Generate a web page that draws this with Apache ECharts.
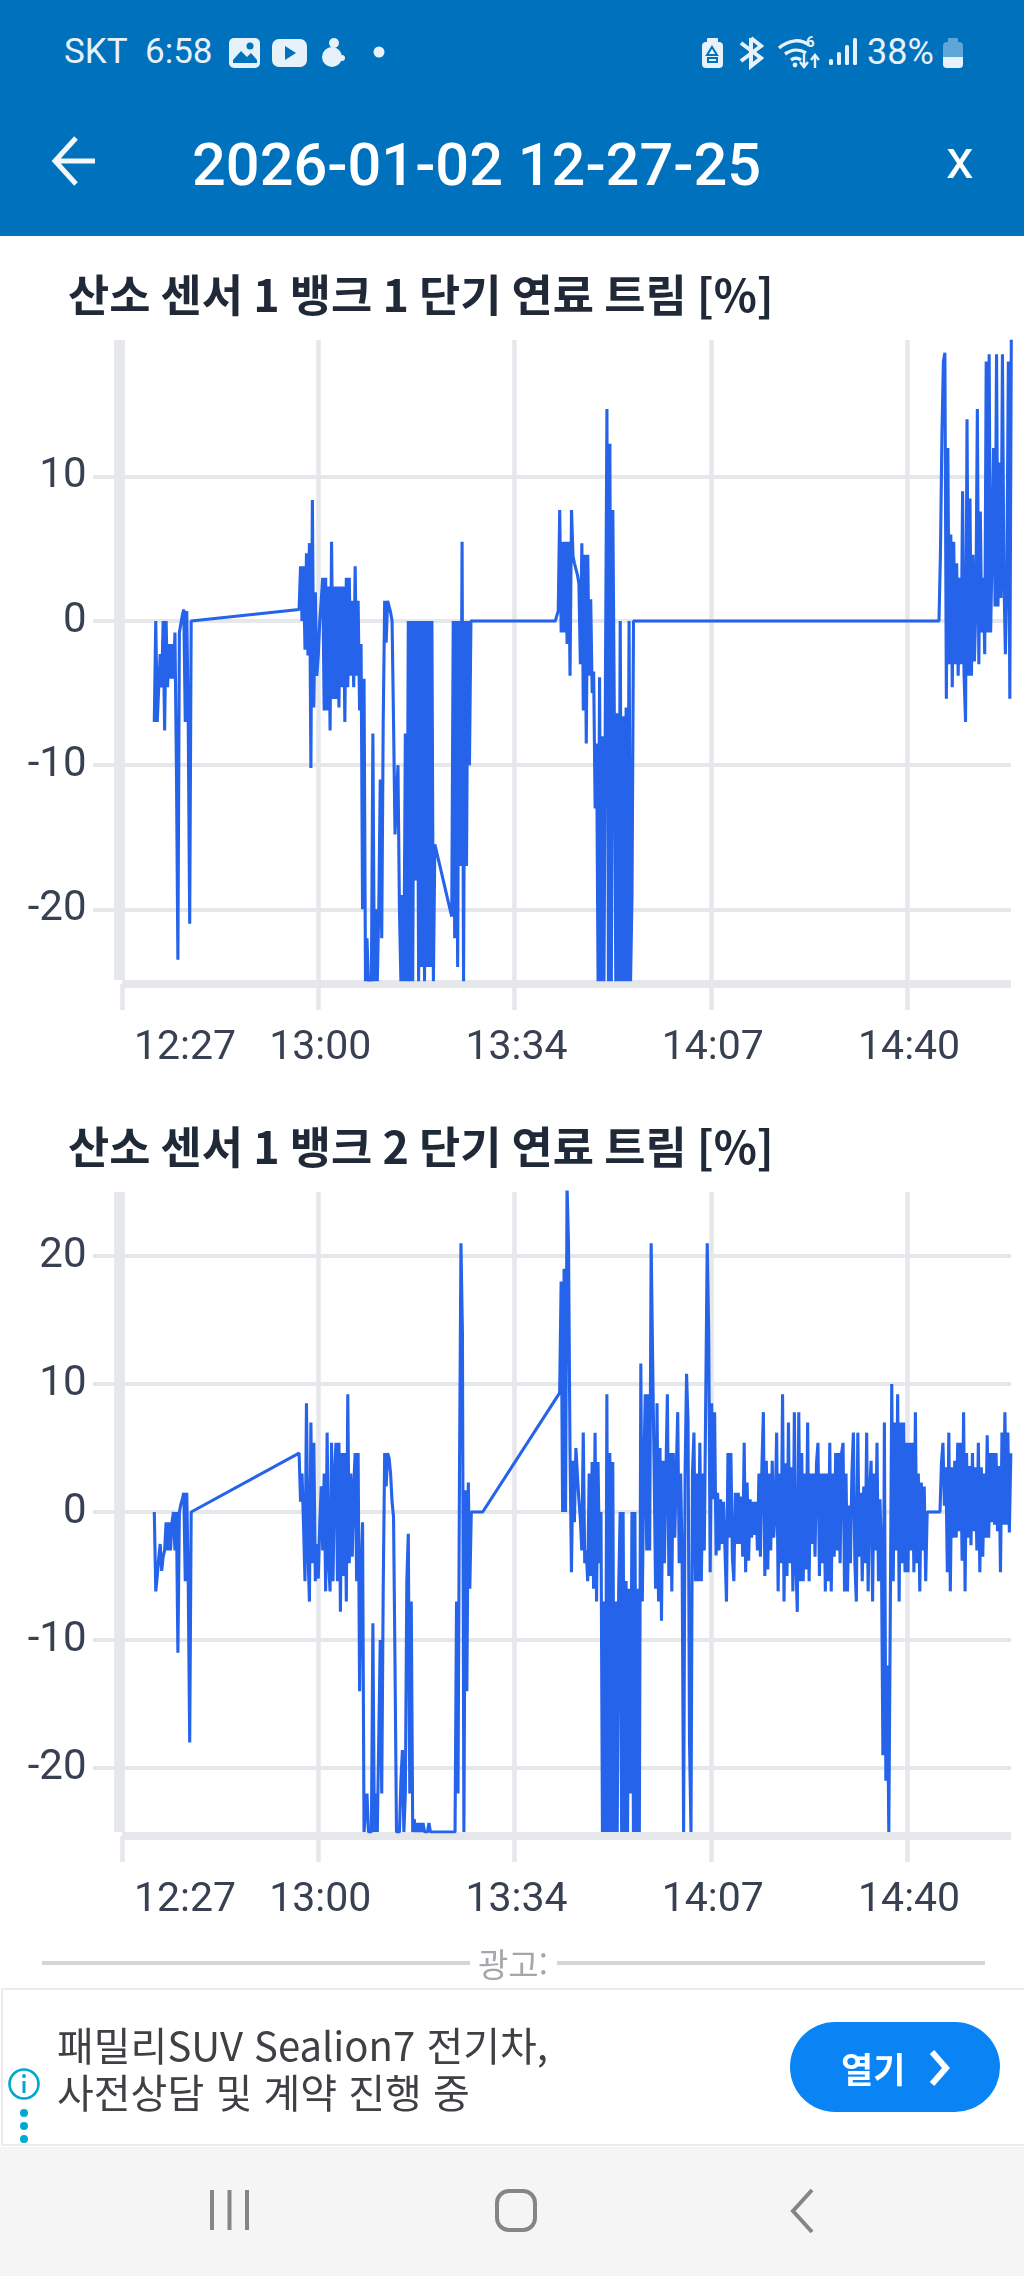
<!DOCTYPE html>
<html lang="ko">
<head>
<meta charset="utf-8">
<title>2026-01-02 12-27-25</title>
<script src="https://cdn.jsdelivr.net/npm/echarts@6/dist/echarts.min.js"></script>
<style>
html,body{margin:0;padding:0;background:#fff;width:1024px;height:2276px;overflow:hidden;font-family:Roboto,"Noto Sans CJK KR",sans-serif}
.a{position:absolute;white-space:nowrap}
#chart{position:absolute;left:0;top:0;width:1024px;height:2276px}
#head{position:absolute;left:0;top:0;width:1024px;height:236px;background:#0071bc}
#nav{position:absolute;left:0;top:2147px;width:1024px;height:129px;background:#f5f5f5}
#adbox{position:absolute;left:1px;top:1988px;width:1023px;height:158px;border:2px solid #ececee;border-right:0;box-sizing:border-box}
</style>
</head>
<body>
<div id="head"></div>
<div class="a" style="left:64px;top:31px;font-size:35px;line-height:42px;color:#e6f1f9">SKT&nbsp;&nbsp;6:58</div>
<svg class="a" style="left:0;top:0" width="1024" height="236" fill="#e6f1f9">
  <rect x="229" y="38" width="31" height="30" rx="5"/>
  <path d="M233 60l8-9 6 6 4-4 6 7v3h-24z" fill="#0071bc"/><circle cx="250" cy="46" r="3.5" fill="#0071bc"/>
  <rect x="272" y="39" width="35" height="28" rx="7"/><path d="M285 46l11 7-11 7z" fill="#0071bc"/>
  <circle cx="334" cy="43" r="5"/><circle cx="332" cy="57" r="10"/><circle cx="342" cy="58" r="3"/>
  <circle cx="379" cy="52" r="5.5"/>
  <rect x="702" y="42" width="21" height="26" rx="4"/><rect x="707" y="38" width="11" height="5" rx="1"/>
  <path d="M712 47l5 8h-10zM708 58h9v4h-9z" fill="none" stroke="#0071bc" stroke-width="2"/>
  <path d="M751 38v28l10-8-20-15M751 38l10 8-20 15" fill="none" stroke="#e6f1f9" stroke-width="4"/>
  <path d="M779 48c11-9 22-9 30-3M785 54c7-5 15-5 21-1M791 60c3-2 7-2 10 0" fill="none" stroke="#e6f1f9" stroke-width="3.4"/>
  <circle cx="795" cy="65" r="2.4"/>
  <text x="806" y="47" font-size="15" font-weight="700" font-family="Roboto">6</text>
  <path d="M804 54v12M800 62l4 5 4-5M815 68v-12M811 60l4-5 4 5" fill="none" stroke="#e6f1f9" stroke-width="2.4"/>
  <rect x="829" y="59" width="4" height="6" rx="1.5"/><rect x="837" y="52" width="4" height="13" rx="1.5"/><rect x="845" y="45" width="4" height="20" rx="1.5"/><rect x="853" y="38" width="4" height="27" rx="1.5"/>
  <rect x="943" y="42" width="20" height="26" rx="4" fill="#5ea5d9"/><rect x="948" y="38" width="10" height="5" rx="1" fill="#5ea5d9"/>
  <path d="M943 57h20v7a4 4 0 0 1-4 4h-12a4 4 0 0 1-4-4z"/>
  <path d="M95 161H57M76 138L55 161l21 23" fill="none" stroke="#f4f8fb" stroke-width="5"/>
</svg>
<div class="a" style="left:867px;top:31px;font-size:36px;line-height:42px;color:#e6f1f9">38%</div>
<div class="a" id="pageTitle" style="left:192px;top:129px;font-size:59.5px;line-height:72px;font-weight:500;color:#fff">2026-01-02 12-27-25</div>
<div class="a" style="left:946px;top:123px;font-size:56px;line-height:72px;color:#fff">x</div>

<div id="chart"></div>

<div class="a" style="left:42px;top:1961px;width:428px;height:4px;background:#d4d5d8"></div>
<div class="a" style="left:557px;top:1961px;width:428px;height:4px;background:#d4d5d8"></div>
<div class="a" style="left:478px;top:1944px;font-size:33px;line-height:38px;color:#a5a7ab;font-family:'Noto Sans CJK KR'">광고:</div>
<div id="adbox"></div>
<div class="a" style="left:57px;top:2018px;font-size:40px;line-height:52px;color:#3e4043;font-family:'Noto Sans CJK KR'">패밀리SUV Sealion7 전기차,</div>
<div class="a" style="left:57px;top:2065px;font-size:40px;line-height:52px;color:#3e4043;font-family:'Noto Sans CJK KR'">사전상담 및 계약 진행 중</div>
<div class="a" style="left:790px;top:2022px;width:210px;height:90px;border-radius:45px;background:#0a84f5"></div>
<div class="a" style="left:841px;top:2046px;font-size:35px;line-height:44px;font-weight:700;color:#fff;font-family:'Noto Sans CJK KR'">열기</div>
<svg class="a" style="left:0;top:1980px" width="1024" height="296">
  <path d="M932 72l14 16-14 16" fill="none" stroke="#fff" stroke-width="6"/>
  <circle cx="24" cy="104" r="14.5" fill="none" stroke="#00a9cf" stroke-width="2.6"/>
  <rect x="22.5" y="101" width="3" height="12" fill="#00a9cf"/><circle cx="24" cy="96" r="2" fill="#00a9cf"/>
  <circle cx="24" cy="133" r="4" fill="#00a9cf"/><circle cx="24" cy="146" r="4" fill="#00a9cf"/><circle cx="24" cy="159" r="4" fill="#00a9cf"/>
</svg>
<div id="nav"></div>
<svg class="a" style="left:0;top:2147px" width="1024" height="129" fill="none" stroke="#858585" stroke-width="4">
  <path d="M212 43v40M229.500 43v40M247 43v40"/>
  <rect x="497" y="44" width="38" height="39" rx="12"/>
  <path d="M812 43L793 64l19 21" stroke-width="4"/>
</svg>

<script>
// ----- axis tick labels -----
const xTickLabels = ['12:27', '13:00', '13:34', '14:07', '14:40'];
const xTickMinutes = [747, 780.25, 813.5, 846.75, 880];
const bank1YTicks = [-20, -10, 0, 10];
const bank2YTicks = [-20, -10, 0, 10, 20];
const chartTitles = ['산소 센서 1 뱅크 1 단기 연료 트림 [%]', '산소 센서 1 뱅크 2 단기 연료 트림 [%]'];
const sampleStepMinutes = 0.25;

// ----- bank 1: logged runs, start minute of each run + readings -----
const bank1RunStarts = [752.47, 777.0, 802.86, 820.4, 885.4];
const bank1Run1 = [-7,0,-7,-4.6,-2.3,-4.6,0,-7.6,0,-4.6,-1.6,-4,-1.6,-4,-0.8,-10.2,-23.5,-0.8,-0.2,0.4,0.8,-7,0.7,-7,-21,0];
const bank1Run2 = [0.8,3.8,0,3.8,-2,4.7,-2.4,5.4,-10.2,8.4,-6,2,-3.8,-2.4,0,1.4,
  3,-6.2,3,-6.2,2.4,-7.6,5.5,-5.4,2.4,-5.4,2.4,-6,2.4,-4.6,2.4,-7,3,-4.6,3,-3.8,1.4,-4.6,3.8,-3.8,1.4,-6.2,-1.6,-20,-4,-25,
  -22,-25,-25,-25,-7.8,-25,-20,-25,-20,-11,-22,-7,1.4,-1.5,1.4,1.4,0.6,0,-7,-14.8,-14.8,-10,-20,-25,-19,-25,-7.8,-25,
  0,-25,0,-25,0,-18,0,-25,0,-24,0,-25,0,-24,0,-24,0,-25,-15.5];
const bank1Run3 = [-20.5,0,-22,0,-24,0,-17,5.5,-25,0,-17,0,-10,0];
const bank1Run4 = [0,0,0.7,7.7,-0.8,5.5,-0.8,5.5,-1.6,5.5,-3.8,7.7,4.5,4,3.6,3.2,2.6,-3,5.4,-6.2,4.6,-8.5,4.6,-3.8,1.5,-5,-3.5,-13,-8.5,-25,-3.9,-25,-8,-25,-3.9,14.7,-25,12.3,-25,7.7,-6.4,-25,-6.4,-25,0,-25,-6.6,-25,-6,-25,0,-25,-19,0];
const bank1Run5 = [0,4.7,13,18,18.6,-5.4,12,-3,6,-4.6,5.5,-3,4,-3.8,3,-3,9,-3.8,-7,14,-3.8,8.5,-3.8,4.6,-2.8,1,14.7,-3,7.6,-0.8,3,-2.3,18,-0.8,18.5,-0.8,5,12,1,18.5,1,11,1.6,18.5,3,-2.3,3,18,-5.4,19.5];

// ----- bank 2: logged runs -----
const bank2RunStarts = [752.47, 777.0, 803.42, 808.1, 821.14, 847.9, 885.57];
const bank2Run1 = [0,-6.2,-5,-3.6,-2.5,-4.6,-3.5,-3,-0.8,-3,-0.8,-3,-0.8,0,-3,0,-11,0,0.6,1,1.5,-5.4,1.5,-5.4,-18,0];
const bank2Run2 = [4.6,0.8,3,-1,-5.4,8.5,-3,-7,7,-4,5.4,-5.4,-2.5,-5.2,-1,2,-3,3,-6.2,6.2,-4,-6.2,5.4,-5.4,3,5.4,-5.4,5.4,-7.8,4.6,-5,4.6,-7,9.2,-4,3,-3.5,2,4.6,-5.4,4.6,-14,-5,-0.8,-25,-25,
  -22,-25,-25,-25,-8.7,-25,-22,-25,-25,-10,-22,-6,4.6,2,4.6,4.2,3,0.8,-0.4,-12,-25,-25,-25,-21,-18.6,-25,-22,-5.4,-1.7,-22,-7,-25,-24,-25,-24.3,-25,-24.3,-25,-24.3,-25,-25,-25,-24.3,-25];
const bank2Run3 = [-25,-7,-22,3,21,14,-25,1.7,-14,2.3,-6,0];
const bank2Run4 = [0];
const bank2Run5 = [9.3,18,0,19,0,25.5,21,5,-4.7,4,-0.8,5,3,1,-0.5,-3,6.2,-4,-3,-5.4,3,-5,3.9,-6,6.2,-7,3.9,-4,0,-25,-7,-25,9.2,-25,4.6,-25,3.9,-25,-7,-25,-6,0,-25,0,-25,-5.4,-25,-6,-22,0,-25,0,-25,-6,-25,
  11.6,-7,3,9.2,-3,9.2,-3,21,12,3.5,-6,8.5,-7,5,-8.5,4,-4,3,9.2,-5,4.6,-6.2,4.6,-2,3,7.8,-4,3,-4,-25,3,10.8,7,-18,-25,3,6.2,-5.4,3,-5.4,5.4,-5.4,3,-3,-3,21,14,-4.7,8.5,1,7.8,-3.4];
const bank2Run6 = [1.5,-3,1,-2.5,0.8,-3,-7,4.6,-2,4.6,-3.5,-5.4,1.5,-2.5,1.5,-2.5,1.2,-3.5,5.4,-4.7,2.3,-3.8,1,-2,0.8,-1.8,0.8,-3,3,-3.5,3.5,7.8,-5,4,-4.5,3,-3,4,-2,0,6.2,-6.2,3,-4,9.2,-7,3.8,-5,7,-4,3.5,-6.2,7.8,-4,-7.8,7.8,-5.4,4.6,-5.4,3,-4.5,7,-5.4,3,-2.5,3,-3.5,3.8,5.4,-5,3,-4,3,-6.2,3,-5.4,5.4,-6.2,3,-3.5,4.6,-3,4.6,-4,4.6,5.4,-6.2,3,-6.2,0.5,-4,3,6.2,-4,-7,6.2,-3.5,1.5,-5.4,2,-4,6.2,-6.2,1.5,4,-7,3,-3,5.4,-5.4,1,-3,-19,7,-21,-12,-25,-8,10,-5.4,7,-3,9.2,-7,7,-4,7,-4.7,5.4,-4.7,5.4,-3,5.4,-4.7,7.8,-4,3,-6.2,2.3,-3,2,-5.4,0];
const bank2Run7 = [0,3.8,5.4,0.5,3.5,-4.7,6.2,-6.2,3.5,-2,4,-2,5.4,-1.5,5.4,-3.8,7.8,-6.2,4.6,-2,3.6,-2.6,4.6,-1.5,3.5,-3,5.4,-4.7,3.5,-3.5,3,-2,6,-2,4.6,-0.8,4.6,-1,4.6,-1.5,3.6,-4.7,6.2,-1,7.8,-1,6.2,-1.6,4.6];

function joinRuns(starts, runs) {
  const points = [];
  runs.forEach(function (run, r) {
    run.forEach(function (v, i) { points.push([starts[r] + i * sampleStepMinutes, v]); });
  });
  return points;
}
const bank1Points = joinRuns(bank1RunStarts, [bank1Run1, bank1Run2, bank1Run3, bank1Run4, bank1Run5]);
const bank2Points = joinRuns(bank2RunStarts, [bank2Run1, bank2Run2, bank2Run3, bank2Run4, bank2Run5, bank2Run6, bank2Run7]);

// ----- layout and style -----
const GRID = '#e5e7eb', LINE = '#2563eb', TEXT = '#374151', H = 2276;
const grids = [{top: 340, bottom: 980}, {top: 1192, bottom: 1832}];
const xLabelStyle = {fontFamily: 'Roboto', fontSize: 41, color: TEXT};

function xAxis(i) {
  return {
    type: 'value', gridIndex: i, min: 747, max: 897.6, offset: 4,
    axisLine: {show: true, onZero: false, lineStyle: {color: GRID, width: 8, cap: 'butt'}},
    axisTick: {show: true, length: 26, customValues: xTickMinutes, lineStyle: {color: GRID, width: 4.5}},
    splitLine: {show: true, showMinLine: false, lineStyle: {color: GRID, width: 4.5}},
    axisLabel: {
      customValues: xTickMinutes, margin: 44, fontFamily: 'Roboto', fontSize: 41, color: TEXT,
      alignMinLabel: 'left',
      formatter: function (v) {
        const k = xTickMinutes.indexOf(v);
        return '{' + (k === 0 ? 'first' : 'rest') + '|' + xTickLabels[k] + '}';
      },
      rich: {
        first: Object.assign({padding: [0, 0, 0, 12]}, xLabelStyle),
        rest: Object.assign({padding: [0, 0, 0, 4]}, xLabelStyle)
      }
    }
  };
}
function yAxis(i, min, max, ticks) {
  return {
    type: 'value', gridIndex: i, min: min, max: max, offset: 2.5,
    axisLine: {show: true, onZero: false, lineStyle: {color: GRID, width: 11, cap: 'butt'}},
    axisTick: {show: true, length: 26.5, customValues: ticks, lineStyle: {color: GRID, width: 4}},
    splitLine: {show: true, lineStyle: {color: GRID, width: 4}},
    axisLabel: {customValues: ticks, margin: 33, fontFamily: 'Roboto', fontSize: 42, color: TEXT}
  };
}
function lineSeries(i, data) {
  return {
    type: 'line', xAxisIndex: i, yAxisIndex: i, data: data, showSymbol: false, symbol: 'none',
    silent: true, clip: true,
    lineStyle: {color: LINE, width: 3.1, join: 'bevel'}
  };
}
const chart = echarts.init(document.getElementById('chart'), null, {renderer: 'canvas'});
chart.setOption({
  animation: false,
  backgroundColor: 'transparent',
  title: chartTitles.map(function (t, i) {
    return {text: t, left: 68, top: i === 0 ? 273 : 1125,
      textStyle: {fontFamily: '"Noto Sans CJK KR"', fontWeight: 700, fontSize: 44.8, color: '#1f2937'}, padding: 0};
  }),
  grid: grids.map(function (g) {
    return {left: 122, right: 13, top: g.top, height: g.bottom - g.top, containLabel: false};
  }),
  xAxis: [xAxis(0), xAxis(1)],
  yAxis: [yAxis(0, -24.9, 19.49, bank1YTicks), yAxis(1, -25, 25, bank2YTicks)],
  series: [lineSeries(0, bank1Points), lineSeries(1, bank2Points)]
});
</script>
</body>
</html>
